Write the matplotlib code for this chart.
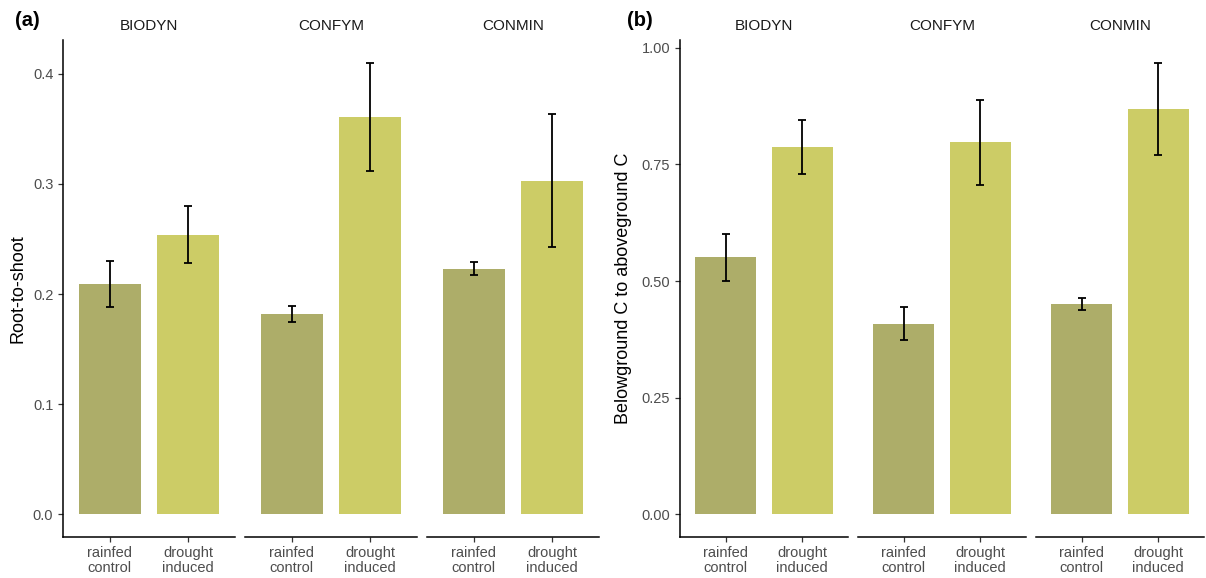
import numpy as np
import matplotlib.pyplot as plt

plt.rcParams['font.family'] = ['Liberation Sans', 'DejaVu Sans']

# data
systems = ["BIODYN", "CONFYM", "CONMIN"]
treatments = ["rainfed\ncontrol", "drought\ninduced"]
bar_colors = ["#ADAD69", "#CCCC66"]

# (a) root-to-shoot ratio, mean and standard error per system x treatment
rs_mean = [[0.209, 0.254], [0.182, 0.361], [0.223, 0.303]]
rs_se = [[0.021, 0.026], [0.007, 0.049], [0.006, 0.060]]
rs_ticks = [0.0, 0.1, 0.2, 0.3, 0.4]

# (b) belowground C to aboveground C
bc_mean = [[0.551, 0.787], [0.409, 0.797], [0.450, 0.869]]
bc_se = [[0.050, 0.057], [0.035, 0.091], [0.013, 0.099]]
bc_ticks = [0.00, 0.25, 0.50, 0.75, 1.00]

W, H = 1206, 578
fig = plt.figure(figsize=(W / 100, H / 100), dpi=100)


def draw_panel(lefts, width, mean, se, ticks, fmt, ylabel, tag, tag_x, ylab_x):
    mean = np.array(mean)
    se = np.array(se)
    top = (mean + se).max()
    ylim = (-0.05 * top, top * 1.05)
    y0, y1 = 40, 537
    x = np.arange(len(treatments))
    for k, (left, name) in enumerate(zip(lefts, systems)):
        ax = fig.add_axes([left / W, (H - y1) / H, width / W, (y1 - y0) / H])
        ax.bar(x, mean[k], width=0.8, color=bar_colors, zorder=1)
        ax.errorbar(x, mean[k], yerr=se[k], fmt='none', ecolor='black',
                    elinewidth=1.3, capsize=3, capthick=1.3, zorder=2)
        ax.set_xlim(-0.6, 1.6)
        ax.set_ylim(*ylim)
        for s in ['top', 'right']:
            ax.spines[s].set_visible(False)
        ax.spines['bottom'].set_linewidth(1.1)
        ax.spines['left'].set_linewidth(1.1)
        ax.set_xticks(x)
        ax.set_xticklabels(treatments, fontsize=10.5, color='#4D4D4D',
                           linespacing=1.1)
        ax.tick_params(axis='both', length=3.5, width=0.9, color='#333333')
        ax.tick_params(axis='x', pad=3)
        ax.set_title(name, fontsize=11, color='#1A1A1A', pad=7)
        if k == 0:
            ax.set_yticks(ticks)
            ax.set_yticklabels([fmt.format(t) for t in ticks], fontsize=10.5,
                               color='#4D4D4D')
        else:
            ax.spines['left'].set_visible(False)
            ax.set_yticks([])
    fig.text(ylab_x / W, 1 - ((y0 + y1) / 2) / H, ylabel, rotation=90,
             ha='center', va='center', fontsize=13)
    fig.text(tag_x / W, 1 - 20 / H, tag, ha='center', va='center',
             fontsize=14.5, fontweight='bold')


draw_panel([63, 245, 427], 172, rs_mean, rs_se, rs_ticks, "{:.1f}",
           "Root-to-shoot", "(a)", 27, 18)
draw_panel([680, 858, 1036], 168, bc_mean, bc_se, bc_ticks, "{:.2f}",
           "Belowground C to aboveground C", "(b)", 640, 624)

fig.savefig("out.png", dpi=100)
